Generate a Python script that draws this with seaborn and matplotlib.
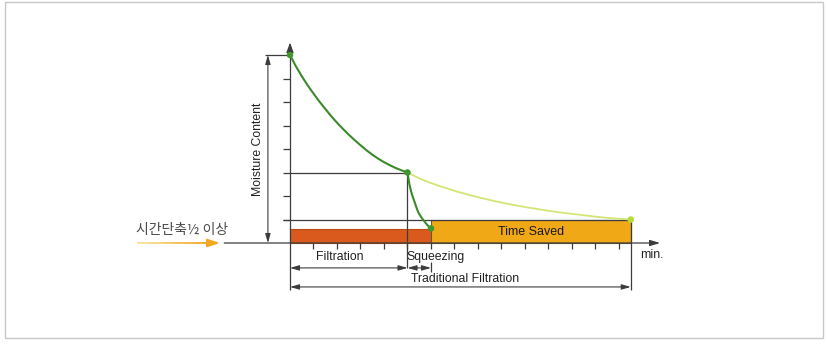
import numpy as np
import pandas as pd
import matplotlib
matplotlib.use("Agg")
import matplotlib.pyplot as plt
import seaborn as sns
from matplotlib.patches import Rectangle

# ---------------- data ----------------
filt_x = [0, 0.25, 0.5, 0.75, 1, 1.25, 1.5, 1.75, 2, 2.25, 2.5, 2.75, 3, 3.25, 3.5, 3.75, 4, 4.25, 4.5, 4.75, 5]
filt_y = [8.0, 7.52, 7.1, 6.71, 6.36, 6.02, 5.71, 5.4, 5.12, 4.86, 4.61, 4.38, 4.16, 3.95, 3.76, 3.59, 3.44, 3.31, 3.19, 3.09, 3.0]

squeeze_x = [5, 5.04, 5.08, 5.13, 5.18, 5.24, 5.3, 5.36, 5.42, 5.48, 5.55, 5.61, 5.67, 5.75, 5.83, 5.91, 6]
squeeze_y = [3.0, 2.74, 2.5, 2.29, 2.1, 1.92, 1.75, 1.57, 1.4, 1.27, 1.15, 1.06, 0.98, 0.88, 0.78, 0.7, 0.62]

trad_x = [5, 5.5, 6, 6.5, 7, 7.5, 8, 8.5, 9, 9.5, 10, 10.5, 11, 11.5, 12, 12.5, 13, 13.5, 14, 14.5]
trad_y = [3.0, 2.75, 2.55, 2.38, 2.22, 2.08, 1.95, 1.83, 1.72, 1.62, 1.53, 1.45, 1.37, 1.3, 1.24, 1.18, 1.12, 1.07, 1.03, 1.0]

key_x = [0, 5, 6]
key_y = [8.0, 3.0, 0.62]
end_x = [14.5]
end_y = [1.0]

bar_start = [0, 6]
bar_width = [6, 8.5]
bar_height = [0.6, 1.0]
bar_labels = ["", "Time Saved"]

y_ticks = [1, 2, 3, 4, 5, 6, 7]
x_ticks = [1, 2, 3, 4, 5, 6, 7, 8, 9, 10, 11, 12, 13, 14]

label_filtration = "Filtration"
label_squeezing = "Squeezing"
label_traditional = "Traditional Filtration"
label_y = "Moisture Content"
label_x = "min."
label_korean = "시간단축½ 이상"

# ---------------- style ----------------
sns.set_theme(style="white")
plt.rcParams["font.family"] = ["Liberation Sans", "DejaVu Sans"]

fig = plt.figure(figsize=(8.28, 3.45), dpi=100)
ax = fig.add_axes([0, 0, 1, 1])
U = 23.5
ax.set_xlim((0 - 290) / U, (828 - 290) / U)
ax.set_ylim((243 - 345) / U, (243 - 0) / U)
ax.axis("off")

# outer frame (in figure coordinates)
fig.patches.append(Rectangle((5 / 828, 1 - 338 / 345), (823 - 5) / 828, (338 - 2) / 345,
                             transform=fig.transFigure, fill=False, edgecolor="#c8c8c8", lw=1.0))

dark = "#3c3c3c"
lw = 0.9

# bars
colors = ["#d95a1c", "#f0a817"]
edges = ["#b84a14", "#6a5a30"]
for s, w, h, c, e, lab in zip(bar_start, bar_width, bar_height, colors, edges, bar_labels):
    ax.bar(s, h, width=w, align="edge", color=c, edgecolor=e, linewidth=0.8, zorder=2)
    if lab:
        ax.text(s + w / 2, h / 2 - 0.05, lab, ha="center", va="center", fontsize=9, color="#1a1a1a", zorder=5)

# reference lines
ax.hlines(1, -0.3, 14.5, color=dark, lw=lw, zorder=3)
ax.hlines(3, 0, 5, color=dark, lw=lw, zorder=3)
ax.hlines(8, -1.05, 0, color=dark, lw=lw, zorder=3)
ax.vlines(5, -1.06, 3, color=dark, lw=lw, zorder=3)
ax.vlines(6, -1.25, -0.8, color=dark, lw=lw, zorder=3)
ax.vlines(0, -2.0, 8.3, color=dark, lw=lw, zorder=3)
ax.vlines(14.5, -2.0, 1, color=dark, lw=lw, zorder=3)

# ticks
ax.hlines(y_ticks, -0.3, 0, color=dark, lw=lw, zorder=3)
ax.vlines(x_ticks, -0.27, 0, color=dark, lw=lw, zorder=3)

# axes arrows
ax.annotate("", xy=(0, 8.65), xytext=(0, 8.2),
            arrowprops=dict(arrowstyle="-|>,head_length=0.5,head_width=0.18", color=dark, lw=lw))
ax.annotate("", xy=(15.75, 0), xytext=(-2.8, 0),
            arrowprops=dict(arrowstyle="-|>,head_length=0.5,head_width=0.15", color=dark, lw=lw,
                            shrinkA=0, shrinkB=0), zorder=4)

# dimension arrows
def dim(x0, y0, x1, y1):
    ax.annotate("", xy=(x1, y1), xytext=(x0, y0),
                arrowprops=dict(arrowstyle="<|-|>,head_length=0.45,head_width=0.13", color=dark, lw=0.8,
                                shrinkA=0, shrinkB=0))

dim(-0.94, 0, -0.94, 8)
dim(0, -1.06, 5, -1.06)
dim(5, -1.06, 6, -1.06)
dim(0, -1.87, 14.5, -1.87)

# curves
df_f = pd.DataFrame({"x": filt_x, "y": filt_y})
df_s = pd.DataFrame({"x": squeeze_x, "y": squeeze_y})
df_t = pd.DataFrame({"x": trad_x, "y": trad_y})
sns.lineplot(data=df_t, x="x", y="y", ax=ax, color="#d2e675", lw=1.3, sort=False, zorder=4)
sns.lineplot(data=df_f, x="x", y="y", ax=ax, color="#3a8a2a", lw=1.5, sort=False, zorder=5)
sns.lineplot(data=df_s, x="x", y="y", ax=ax, color="#3a8a2a", lw=1.5, sort=False, zorder=5)
sns.scatterplot(x=key_x, y=key_y, ax=ax, color="#3d9a2a", s=22, edgecolor="none", zorder=6)
sns.scatterplot(x=end_x, y=end_y, ax=ax, color="#b5dc3a", s=22, edgecolor="none", zorder=6)

# texts
fs = 8.8
ax.text(-1.36, 4.0, label_y, rotation=90, ha="center", va="center", fontsize=fs, color="#222222")
ax.text(2.13, -0.6, label_filtration, ha="center", va="center", fontsize=fs, color="#222222")
ax.text(6.2, -0.6, label_squeezing, ha="center", va="center", fontsize=fs, color="#222222")
ax.text(7.45, -1.53, label_traditional, ha="center", va="center", fontsize=fs, color="#222222")
ax.text(15.4, -0.5, label_x, ha="center", va="center", fontsize=fs, color="#222222")

ax.text(-6.55, 0.55, label_korean, ha="left", va="center", fontsize=10, color="#4a4a4a",
        family=["Noto Sans CJK KR", "DejaVu Sans"])

# gradient orange arrow on the left
xs = np.linspace(-6.5, -3.4, 40)
cmap = matplotlib.colors.LinearSegmentedColormap.from_list("o", ["#f7e7a8", "#f0a820"])
for i in range(len(xs) - 1):
    ax.plot(xs[i:i + 2], [0.0, 0.0], color=cmap(i / (len(xs) - 2)), lw=1.4, solid_capstyle="butt")
ax.annotate("", xy=(-2.98, 0.0), xytext=(-3.5, 0.0),
            arrowprops=dict(arrowstyle="-|>,head_length=0.6,head_width=0.2", color="#f0a820", lw=1.4,
                            shrinkA=0, shrinkB=0))

fig.savefig("out.png", dpi=100)
